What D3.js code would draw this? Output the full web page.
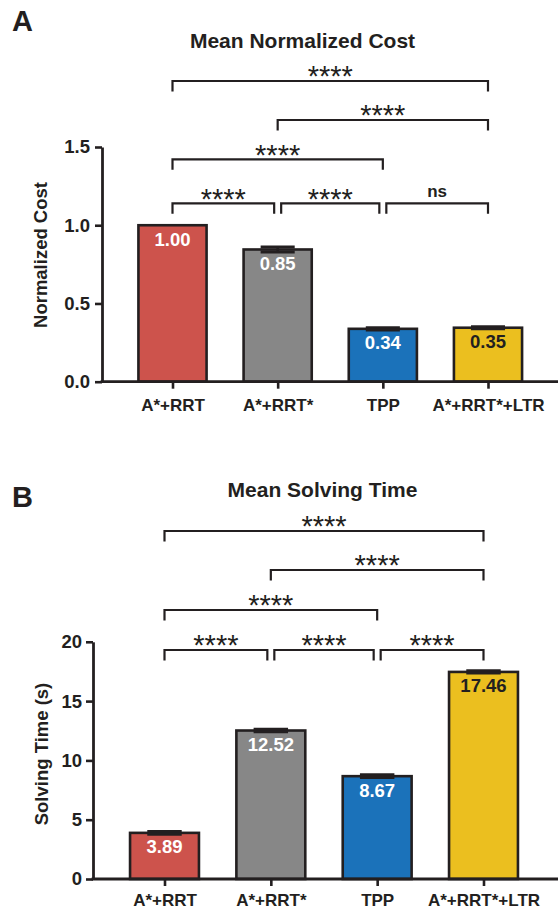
<!DOCTYPE html>
<html>
<head>
<meta charset="utf-8">
<script src="https://cdn.jsdelivr.net/npm/d3@7"></script>
<style>
  html, body { margin: 0; padding: 0; background: #ffffff; }
  svg { display: block; }
  text { font-family: "Liberation Sans", Arial, Helvetica, sans-serif; fill: #231f20; }
</style>
</head>
<body>
<svg id="chart" width="558" height="909"></svg>
<script>
// ---------------- data ----------------
const categories = ["A*+RRT", "A*+RRT*", "TPP", "A*+RRT*+LTR"];

const costValues = [1.00, 0.845, 0.338, 0.345];
const costErrors = [0.0, 0.016, 0.007, 0.006];
const costLabels = ["1.00", "0.85", "0.34", "0.35"];
const costTicks = [0, 0.5, 1.0, 1.5];

const timeValues = [3.89, 12.52, 8.67, 17.46];
const timeErrors = [0.12, 0.1, 0.12, 0.1];
const timeLabels = ["3.89", "12.52", "8.67", "17.46"];
const timeTicks = [0, 5, 10, 15, 20];

const barColors = ["#cd534c", "#878787", "#1b72ba", "#ebbf1f"];
const labelColors = ["#ffffff", "#ffffff", "#ffffff", "#231f20"];

// comparisons: [from index, to index, significance, row (0 = top)]
const costComparisons = [
  [0, 3, "****", 0],
  [1, 3, "****", 1],
  [0, 2, "****", 2],
  [0, 1, "****", 3],
  [1, 2, "****", 3],
  [2, 3, "ns", 3]
];
const timeComparisons = [
  [0, 3, "****", 0],
  [1, 3, "****", 1],
  [0, 2, "****", 2],
  [0, 1, "****", 3],
  [1, 2, "****", 3],
  [2, 3, "****", 3]
];

// ---------------- drawing ----------------
const svg = d3.select("#chart");
const ink = "#231f20";

function drawPanel(cfg) {
  const g = svg.append("g");

  // panel letter
  g.append("text").attr("x", cfg.letterX).attr("y", cfg.letterY)
    .attr("font-size", 29).attr("font-weight", "bold").text(cfg.letter);

  // title
  g.append("text").attr("x", cfg.titleX).attr("y", cfg.titleY)
    .attr("text-anchor", "middle").attr("font-size", 21).attr("font-weight", "bold")
    .text(cfg.title);

  const x = d3.scalePoint().domain(categories).range(cfg.xRange);
  const y = d3.scaleLinear().domain(cfg.yDomain).range([cfg.y0, cfg.yTop]);
  const bw = x.step() * 0.648;

  // y axis
  const yAxis = d3.axisLeft(y).tickValues(cfg.ticks).tickFormat(cfg.fmt)
    .tickSize(7).tickSizeOuter(0).tickPadding(cfg.tickPad);
  const ya = g.append("g").attr("transform", `translate(${cfg.axisX},0)`).call(yAxis);
  ya.select(".domain").attr("stroke", ink).attr("stroke-width", 2.8);
  ya.selectAll(".tick line").attr("stroke", ink).attr("stroke-width", 2.6);
  ya.selectAll(".tick text").attr("font-size", 18.5).attr("font-weight", "bold")
    .attr("fill", ink).style("font-family", '"Liberation Sans", Arial, sans-serif');

  // y axis title
  g.append("text")
    .attr("transform", `translate(${cfg.yTitleX},${cfg.yTitleY}) rotate(-90)`)
    .attr("text-anchor", "middle").attr("font-size", 18.5).attr("font-weight", "bold")
    .text(cfg.yTitle);

  // bars
  const data = categories.map((c, i) => ({
    c, i, v: cfg.values[i], e: cfg.errors[i], lab: cfg.labels[i]
  }));

  g.selectAll("rect.bar").data(data).join("rect")
    .attr("class", "bar")
    .attr("x", d => x(d.c) - bw / 2)
    .attr("y", d => y(d.v))
    .attr("width", bw)
    .attr("height", d => y(0) - y(d.v))
    .attr("fill", d => barColors[d.i])
    .attr("stroke", ink).attr("stroke-width", 2.6);

  // error bars (mean ± SEM)
  const eb = g.selectAll("g.err").data(data.filter(d => d.e > 0)).join("g").attr("class", "err");
  eb.append("line")
    .attr("x1", d => x(d.c)).attr("x2", d => x(d.c))
    .attr("y1", d => y(d.v - d.e)).attr("y2", d => y(d.v + d.e))
    .attr("stroke", ink).attr("stroke-width", 2.6);
  eb.append("line")
    .attr("x1", d => x(d.c) - bw / 4).attr("x2", d => x(d.c) + bw / 4)
    .attr("y1", d => y(d.v + d.e)).attr("y2", d => y(d.v + d.e))
    .attr("stroke", ink).attr("stroke-width", 3);
  eb.append("line")
    .attr("x1", d => x(d.c) - bw / 4).attr("x2", d => x(d.c) + bw / 4)
    .attr("y1", d => y(d.v - d.e)).attr("y2", d => y(d.v - d.e))
    .attr("stroke", ink).attr("stroke-width", 3);

  // value labels
  g.selectAll("text.val").data(data).join("text")
    .attr("class", "val")
    .attr("x", d => x(d.c)).attr("y", d => y(d.v) + 20.5)
    .attr("text-anchor", "middle").attr("font-size", 18.5).attr("font-weight", "bold")
    .style("fill", d => labelColors[d.i])
    .text(d => d.lab);

  // x axis
  g.append("line")
    .attr("x1", cfg.axisX - 1.4).attr("x2", 558)
    .attr("y1", y(0)).attr("y2", y(0))
    .attr("stroke", ink).attr("stroke-width", 2.8);
  const xAxis = d3.axisBottom(x).tickSize(7).tickPadding(cfg.xPad).tickSizeOuter(0);
  const xa = g.append("g").attr("transform", `translate(0,${y(0)})`).call(xAxis);
  xa.select(".domain").remove();
  xa.selectAll(".tick line").attr("stroke", ink).attr("stroke-width", 2.6);
  xa.selectAll(".tick text").attr("font-size", 17).attr("font-weight", "bold")
    .attr("fill", ink).style("font-family", '"Liberation Sans", Arial, sans-serif');

  // significance brackets
  const inset = 3.5, leg = 10.5;
  cfg.comparisons.forEach(([a, b, sig, row]) => {
    const sameRow = cfg.comparisons.filter(c => c[3] === row);
    let x1 = x(categories[a]), x2 = x(categories[b]);
    if (sameRow.some(c => c[1] === a)) x1 += inset;
    if (sameRow.some(c => c[0] === b)) x2 -= inset;
    const by = cfg.rowY[row];
    g.append("path")
      .attr("d", `M${x1},${by + leg}V${by}H${x2}V${by + leg}`)
      .attr("fill", "none").attr("stroke", ink).attr("stroke-width", 2.2);
    const cx = (x1 + x2) / 2;
    if (sig === "ns") {
      g.append("text").attr("x", cx).attr("y", by - 6.6)
        .attr("text-anchor", "middle").attr("font-size", 17).attr("font-weight", "bold")
        .text(sig);
    } else {
      g.append("text").attr("x", cx).attr("y", by + 5.2)
        .attr("text-anchor", "middle").attr("font-size", 29).attr("font-weight", "normal")
        .text(sig);
    }
  });
}

drawPanel({
  letter: "A", letterX: 12, letterY: 30.7,
  title: "Mean Normalized Cost", titleX: 302.5, titleY: 48.3,
  xRange: [172.5, 488], yDomain: [0, 1.5], y0: 381.7, yTop: 147,
  axisX: 102, tickPad: 5, ticks: costTicks, fmt: d3.format(".1f"),
  yTitle: "Normalized Cost", yTitleX: 46.5, yTitleY: 255, xPad: 10.2,
  values: costValues, errors: costErrors, labels: costLabels,
  comparisons: costComparisons, rowY: [81, 120, 159.3, 203.3]
});

drawPanel({
  letter: "B", letterX: 12, letterY: 506.7,
  title: "Mean Solving Time", titleX: 322.5, titleY: 496.7,
  xRange: [164.5, 483.5], yDomain: [0, 20], y0: 879, yTop: 641.8,
  axisX: 93, tickPad: 4, ticks: timeTicks, fmt: d3.format("d"),
  yTitle: "Solving Time (s)", yTitleX: 47.5, yTitleY: 754, xPad: 8.2,
  values: timeValues, errors: timeErrors, labels: timeLabels,
  comparisons: timeComparisons, rowY: [531, 570, 610, 650]
});
</script>
</body>
</html>
